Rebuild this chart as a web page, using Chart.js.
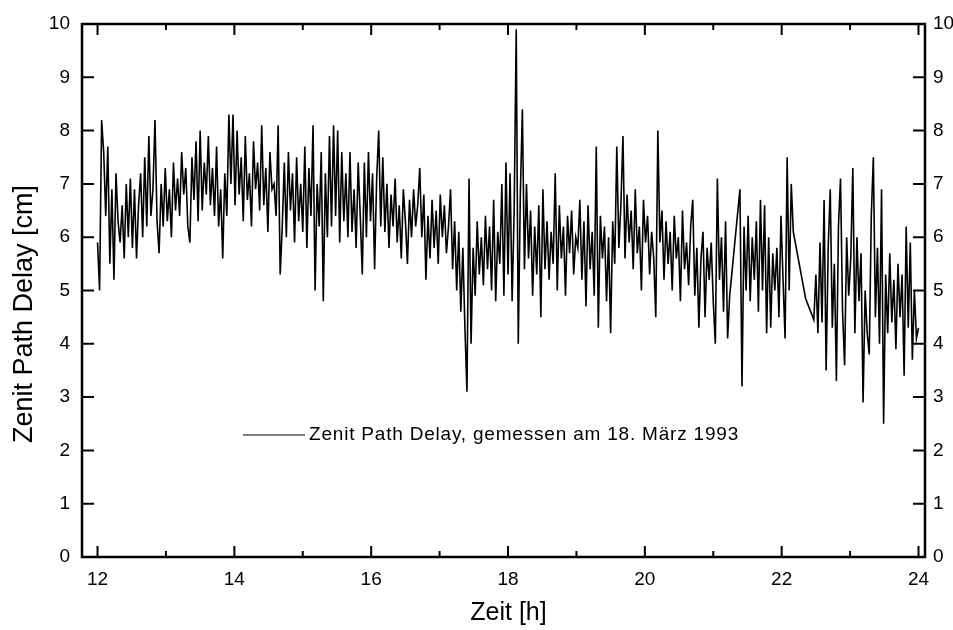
<!DOCTYPE html>
<html>
<head>
<meta charset="utf-8">
<script src="https://cdn.jsdelivr.net/npm/chart.js@4.4.1/dist/chart.umd.min.js"></script>
<style>
html,body{margin:0;padding:0;background:#fff;}
#wrap{width:953px;height:630px;position:relative;}
</style>
</head>
<body>
<div id="wrap"><canvas id="c" width="953" height="630"></canvas></div>
<script>
// ---------- data ----------
const startHour = 12.0;   // first sample
const stepHour = 0.03;    // sampling step of the listed values (h)
const delayCm = [
  5.9, 5.0, 8.2, 7.6, 6.4, 7.7, 5.5, 6.9, 5.2, 7.2,
  6.3, 5.9, 6.6, 5.6, 7.0, 6.0, 7.1, 5.8, 6.9, 5.6,
  6.6, 7.2, 6.0, 7.5, 6.2, 7.9, 6.4, 6.9, 8.2, 6.3,
  5.7, 7.0, 6.2, 7.3, 6.3, 6.9, 6.0, 7.4, 6.5, 7.1,
  6.4, 7.6, 6.8, 7.3, 6.2, 5.9, 7.5, 6.7, 7.8, 6.3,
  8.0, 6.5, 7.4, 6.8, 7.9, 6.6, 7.3, 6.4, 7.7, 6.2,
  6.9, 5.6, 7.2, 6.4, 8.3, 7.0, 8.3, 6.6, 8.0, 6.8,
  7.5, 6.3, 7.9, 6.7, 7.2, 6.2, 7.8, 6.9, 7.4, 6.5,
  8.1, 6.6, 7.3, 6.1, 7.6, 6.9, 7.0, 6.4, 8.1, 5.3,
  6.2, 7.4, 6.0, 7.6, 6.5, 7.2, 5.9, 7.5, 6.3, 7.0,
  6.1, 7.7, 5.8, 7.3, 6.4, 8.1, 5.0, 7.0, 6.2, 7.6,
  4.8, 7.2, 6.0, 7.9, 6.2, 8.1, 6.4, 8.0, 5.9, 7.6,
  6.3, 7.2, 6.0, 7.6, 6.1, 6.9, 5.8, 7.4, 6.4, 5.3,
  7.4, 6.0, 7.6, 6.3, 7.2, 5.4, 7.1, 8.0, 6.2, 7.5,
  6.1, 7.0, 5.8, 6.8, 6.2, 7.1, 5.9, 6.6, 5.6, 6.9,
  6.3, 5.5, 6.7, 6.0, 6.9, 6.2, 6.6, 7.3, 6.0, 6.8,
  5.2, 6.4, 5.6, 6.7, 5.8, 6.5, 5.5, 6.8, 6.0, 6.6,
  5.7, 6.2, 6.9, 5.4, 6.3, 5.0, 6.1, 4.6, 5.8, 4.3,
  3.1, 7.1, 4.0, 5.8, 4.9, 6.3, 5.3, 6.0, 5.1, 6.4,
  5.4, 6.2, 5.0, 6.7, 4.8, 6.1, 5.5, 7.0, 4.9, 7.4,
  5.3, 7.2, 4.8, 6.5, 9.9, 4.0, 6.8, 8.4, 5.4, 7.0,
  5.6, 6.5, 4.9, 6.2, 5.3, 6.6, 4.5, 6.9, 5.4, 6.3,
  5.2, 6.1, 5.5, 7.2, 5.0, 6.6, 5.6, 6.2, 4.9, 6.4,
  5.7, 6.5, 5.3, 6.0, 5.8, 6.7, 5.2, 6.3, 4.7, 6.6,
  5.4, 6.1, 4.9, 7.7, 4.3, 6.4, 5.6, 6.2, 4.8, 6.0,
  4.2, 6.3, 5.5, 7.7, 5.8, 6.6, 7.9, 5.6, 6.8, 5.9,
  6.5, 5.4, 6.9, 5.7, 6.2, 5.0, 6.7, 5.9, 6.4, 5.3,
  6.1, 5.6, 4.5, 8.0, 5.9, 6.5, 5.2, 6.3, 5.5, 6.1,
  5.0, 6.4, 5.6, 6.0, 4.8, 6.5, 5.4, 5.9, 5.1, 6.2,
  6.7, 4.9, 5.8, 4.3, 5.6, 6.1, 4.5, 5.8, 5.2, 5.9,
  4.8, 4.0, 7.1, 5.2, 6.0, 4.6, 6.3, 4.1, 4.9, null,
  null, null, null, 6.9, 3.2, 6.2, 5.0, 6.4, 4.8, 6.0,
  5.2, 6.3, 4.6, 6.7, 5.0, 6.6, 4.2, 6.0, 4.3, 5.7,
  5.0, 5.8, 4.5, 6.4, 5.2, 4.1, 7.5, 5.0, 7.0, 6.1,
  null, null, null, null, null, 4.85, null, null, null, 4.45,
  5.3, 4.2, 5.9, 4.4, 6.7, 3.5, 5.8, 6.9, 4.3, 5.5,
  3.3, 6.2, 7.1, 4.6, 3.6, 6.0, 4.9, 5.6, 7.3, 4.2,
  6.0, 4.8, 5.7, 2.9, 5.0, 4.2, 3.8, 6.4, 7.5, 4.5,
  5.8, 4.0, 6.9, 2.5, 5.3, 4.2, 5.7, 4.4, 5.2, 3.9,
  5.5, 4.5, 5.3, 3.4, 6.2, 4.3, 5.9, 3.7, 5.0, 4.1,
  4.3
];
const xTickHours = [12, 14, 16, 18, 20, 22, 24];
const xMinorHours = [13, 15, 17, 19, 21, 23];
const yTickValues = [0, 1, 2, 3, 4, 5, 6, 7, 8, 9, 10];
const seriesLabel = 'Zenit Path Delay, gemessen am 18. März 1993';
const xTitle = 'Zeit [h]';
const yTitle = 'Zenit Path Delay [cm]';

// ---------- chart ----------
const FONT = '"Liberation Sans", Arial, Helvetica, sans-serif';
const points = delayCm.map((v, i) => ({ x: +(startHour + i * stepHour).toFixed(2), y: v }));

const framePlugin = {
  id: 'frame',
  afterDraw(chart) {
    const { ctx, chartArea: a, scales } = chart;
    const x = scales.x, y = scales.y;
    ctx.save();
    ctx.strokeStyle = '#000';
    ctx.lineWidth = 2.5;
    ctx.strokeRect(a.left, a.top, a.right - a.left, a.bottom - a.top);
    ctx.lineWidth = 2;
    ctx.beginPath();
    xTickHours.concat(xMinorHours).forEach(h => {
      const px = x.getPixelForValue(h);
      const len = xTickHours.includes(h) ? 11 : 6;
      ctx.moveTo(px, a.bottom); ctx.lineTo(px, a.bottom - len);
      ctx.moveTo(px, a.top); ctx.lineTo(px, a.top + len);
    });
    yTickValues.forEach(v => {
      const py = y.getPixelForValue(v);
      ctx.moveTo(a.left, py); ctx.lineTo(a.left + 12, py);
      ctx.moveTo(a.right, py); ctx.lineTo(a.right - 12, py);
    });
    ctx.stroke();

    // legend inside the plot
    const ly = a.top + 411;
    ctx.lineWidth = 1.2;
    ctx.beginPath();
    ctx.moveTo(a.left + 161, ly); ctx.lineTo(a.left + 223, ly);
    ctx.stroke();
    ctx.fillStyle = '#000';
    ctx.font = '19px ' + FONT;
    try { ctx.letterSpacing = '0.8px'; } catch (e) {}
    ctx.textAlign = 'left';
    ctx.textBaseline = 'middle';
    ctx.fillText(seriesLabel, a.left + 227, ly);
    try { ctx.letterSpacing = '0px'; } catch (e) {}

    // axis titles
    ctx.font = '25px ' + FONT;
    ctx.textAlign = 'center';
    ctx.fillText(xTitle, (a.left + a.right) / 2 + 5, 613);
    ctx.save();
    ctx.translate(25, 314);
    ctx.rotate(-Math.PI / 2);
    ctx.font = '27px ' + FONT;
    ctx.fillText(yTitle, 0, 0);
    ctx.restore();
    ctx.restore();
  }
};

new Chart(document.getElementById('c'), {
  type: 'line',
  data: {
    datasets: [{
      label: seriesLabel,
      data: points,
      borderColor: '#000',
      borderWidth: 1.6,
      pointRadius: 0,
      tension: 0,
      spanGaps: true,
      fill: false
    }]
  },
  options: {
    responsive: false,
    animation: false,
    devicePixelRatio: 1,
    layout: { padding: { top: 24, left: 0, right: 0, bottom: 0 } },
    plugins: { legend: { display: false }, tooltip: { enabled: false } },
    scales: {
      x: {
        type: 'linear',
        min: 11.773,
        max: 24.095,
        afterBuildTicks: s => { s.ticks = xTickHours.map(v => ({ value: v })); },
        afterFit: s => { s.height = 73; },
        grid: { display: false, drawTicks: false },
        border: { display: false },
        ticks: { color: '#000', font: { family: FONT, size: 19 }, padding: 11, maxRotation: 0, autoSkip: false }
      },
      y: {
        position: 'left',
        min: 0, max: 10,
        afterBuildTicks: s => { s.ticks = yTickValues.map(v => ({ value: v })); },
        afterFit: s => { s.width = 82; },
        grid: { display: false, drawTicks: false },
        border: { display: false },
        ticks: { color: '#000', font: { family: FONT, size: 19 }, padding: 12 }
      },
      y2: {
        position: 'right',
        min: 0, max: 10,
        afterBuildTicks: s => { s.ticks = yTickValues.map(v => ({ value: v })); },
        afterFit: s => { s.width = 28; },
        grid: { display: false, drawTicks: false },
        border: { display: false },
        ticks: { color: '#000', font: { family: FONT, size: 19 }, padding: 8 }
      }
    }
  },
  plugins: [framePlugin]
});
</script>
</body>
</html>
